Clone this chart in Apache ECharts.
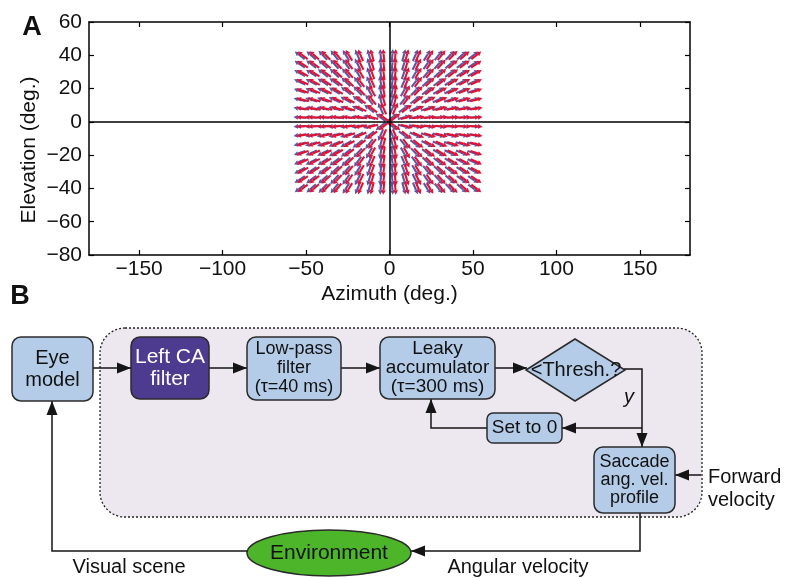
<!DOCTYPE html>
<html><head><meta charset="utf-8">
<script src="https://cdn.jsdelivr.net/npm/echarts@6/dist/echarts.min.js"></script>
<style>html,body{margin:0;padding:0;background:#fff}#c{width:787px;height:578px}</style>
</head><body><div id="c"></div>
<script>
// ---- data ----
const azimuths = [-52, -45.1, -38.1, -31.2, -24.3, -17.3, -10.4, -3.5, 3.5, 10.4, 17.3, 24.3, 31.2, 38.1, 45.1, 52];
const elevations = [-40, -34.7, -29.3, -24, -18.7, -13.3, -8, -2.7, 2.7, 8, 13.3, 18.7, 24, 29.3, 34.7, 40];
const focusOfExpansion = [0, 0];
const xTickValues = [-150, -100, -50, 0, 50, 100, 150];
const yTickValues = [-80, -60, -40, -20, 0, 20, 40, 60];
const xRange = [-180, 180];
const yRange = [-80, 60];

const FONT = '"Liberation Sans", Arial, Helvetica, sans-serif';
const points = [];
for (const el of elevations) for (const az of azimuths) points.push([az, el]);

function arrowRenderer(color, dx) {
  return function (params, api) {
    const p = api.coord([api.value(0), api.value(1)]);
    const o = api.coord(focusOfExpansion);
    let vx = p[0] - o[0], vy = p[1] - o[1];
    const n = Math.hypot(vx, vy) || 1; vx /= n; vy /= n;
    const L = 12.5, hl = 4.5, hw = 2.4;
    const cx = p[0] + dx, cy = p[1];
    const x1 = cx - vx * L / 2, y1 = cy - vy * L / 2;
    const x2 = cx + vx * L / 2, y2 = cy + vy * L / 2;
    const bx = x2 - vx * hl, by = y2 - vy * hl;
    return { type: 'group', children: [
      { type: 'line', shape: { x1: x1, y1: y1, x2: bx, y2: by }, style: { stroke: color, lineWidth: 2.1 } },
      { type: 'polygon', shape: { points: [[x2, y2], [bx - vy * hw, by + vx * hw], [bx + vy * hw, by - vx * hw]] }, style: { fill: color } }
    ] };
  };
}
const minus = v => (v < 0 ? '\u2212' + Math.abs(v) : String(v));

// ---- diagram (panel B) ----
const LINE = '#151515', BOXFILL = '#b5cce8', BORDER = '#2b2b2b';
const G = [];
function txt(x, y, text, size, opts) {
  opts = opts || {};
  G.push({ type: 'text', z: 20, x: x, y: y, rotation: opts.rot || 0,
    style: { text: text, x: 0, y: 0, align: opts.align || 'center', verticalAlign: 'middle',
      fontSize: size, fontFamily: FONT, fontStyle: opts.italic ? 'italic' : 'normal', fontWeight: opts.bold ? 'bold' : 'normal',
      fill: opts.color || '#111', lineHeight: opts.lh || size } });
}
function box(x, y, w, h, r, fill, text, size, lh, color) {
  G.push({ type: 'rect', z: 10, shape: { x: x, y: y, width: w, height: h, r: r }, style: { fill: fill, stroke: BORDER, lineWidth: 1.5 } });
  txt(x + w / 2, y + h / 2, text, size, { lh: lh, color: color });
}
function wire(pts) {
  G.push({ type: 'polyline', z: 5, shape: { points: pts }, style: { stroke: LINE, lineWidth: 1.5, fill: null } });
}
function head(x, y, dir) {
  const l = 14, w = 5.5;
  let pts;
  if (dir === 'right') pts = [[x, y], [x - l, y - w], [x - l, y + w]];
  if (dir === 'left') pts = [[x, y], [x + l, y - w], [x + l, y + w]];
  if (dir === 'up') pts = [[x, y], [x - w, y + l], [x + w, y + l]];
  if (dir === 'down') pts = [[x, y], [x - w, y - l], [x + w, y - l]];
  G.push({ type: 'polygon', z: 15, shape: { points: pts }, style: { fill: LINE } });
}
// dotted region
G.push({ type: 'rect', z: 1, shape: { x: 100, y: 328, width: 602, height: 189, r: 25 },
  style: { fill: '#ede7ef', stroke: '#222', lineWidth: 1.3, lineDash: [2, 2] } });
// wires
wire([[93, 368], [131, 368]]); head(131, 368, 'right');
wire([[209, 368], [247, 368]]); head(247, 368, 'right');
wire([[341, 368], [380, 368]]); head(380, 368, 'right');
wire([[495, 368], [527, 368]]); head(527, 368, 'right');
wire([[624, 369], [642, 369], [642, 447]]); head(642, 447, 'down');
wire([[642, 428], [562, 428]]); head(562, 428, 'left');
wire([[487, 428], [431, 428], [431, 399]]); head(431, 399, 'up');
wire([[701, 475], [675, 475]]); head(675, 475, 'left');
wire([[640, 513], [640, 551], [411, 551]]); head(411, 551, 'left');
wire([[247, 551], [52, 551], [52, 401]]); head(52, 401, 'up');
// boxes
box(12, 337, 81, 64, 9, BOXFILL, 'Eye\nmodel', 20, 22);
box(131, 337, 78, 62, 9, '#4c3b8e', 'Left CA\nfilter', 21, 22, '#ffffff');
box(247, 337, 94, 63, 9, BOXFILL, 'Low-pass\nfilter\n(\u03c4=40 ms)', 18, 19);
box(380, 337, 115, 62, 9, BOXFILL, 'Leaky\naccumulator\n(\u03c4=300 ms)', 19, 19);
box(487, 413, 75, 30, 6, BOXFILL, 'Set to 0', 19, 19);
box(594, 447, 81, 66, 9, BOXFILL, 'Saccade\nang. vel.\nprofile', 18, 18);
G.push({ type: 'polygon', z: 10, shape: { points: [[526, 370], [575, 339], [625, 370], [575, 401]] }, style: { fill: BOXFILL, stroke: BORDER, lineWidth: 1.5 } });
txt(576, 370, '<Thresh.?', 20);
txt(629, 397, 'y', 20, { italic: true });
G.push({ type: 'ellipse', z: 10, shape: { cx: 329, cy: 553, rx: 82, ry: 23 }, style: { fill: '#4db52a', stroke: BORDER, lineWidth: 1.5 } });
txt(329, 553, 'Environment', 21);
txt(708, 477, 'Forward', 20, { align: 'left' });
txt(708, 500, 'velocity', 20, { align: 'left' });
txt(129, 567, 'Visual scene', 20);
txt(518, 567, 'Angular velocity', 20);
txt(32, 28, 'A', 27, { bold: true });
txt(20, 297, 'B', 27, { bold: true });
txt(29, 150, 'Elevation (deg.)', 21, { rot: Math.PI / 2 });

const axisLine = { show: true, onZero: false, lineStyle: { color: '#000', width: 1.5 } };
const tickStyle = { color: '#000', width: 1.2 };
const option = {
  animation: false,
  backgroundColor: '#fff',
  grid: { left: 89, top: 22, right: 97, bottom: 323, containLabel: false, outerBoundsMode: 'none', show: false },
  xAxis: [
    { type: 'value', position: 'bottom', min: xRange[0], max: xRange[1], axisLine: axisLine,
      axisTick: { show: true, inside: true, length: 5, customValues: xTickValues, lineStyle: tickStyle },
      axisLabel: { customValues: xTickValues, formatter: minus, fontSize: 21, fontFamily: FONT, color: '#111', margin: 4 },
      splitLine: { show: false },
      name: 'Azimuth (deg.)', nameLocation: 'middle', nameGap: 29,
      nameTextStyle: { fontSize: 21, fontFamily: FONT, color: '#111' } },
    { type: 'value', position: 'top', min: xRange[0], max: xRange[1], axisLine: axisLine,
      axisTick: { show: true, inside: true, length: 5, customValues: xTickValues, lineStyle: tickStyle },
      axisLabel: { show: false }, splitLine: { show: false } }
  ],
  yAxis: [
    { type: 'value', position: 'left', min: yRange[0], max: yRange[1], interval: 20, axisLine: axisLine,
      axisTick: { show: true, inside: true, length: 5, lineStyle: tickStyle },
      axisLabel: { formatter: minus, fontSize: 21, fontFamily: FONT, color: '#111', margin: 7 },
      splitLine: { show: false } },
    { type: 'value', position: 'right', min: yRange[0], max: yRange[1], interval: 20, axisLine: axisLine,
      axisTick: { show: true, inside: true, length: 5, lineStyle: tickStyle },
      axisLabel: { show: false }, splitLine: { show: false } }
  ],
  series: [
    { type: 'custom', name: 'blue', data: points, renderItem: arrowRenderer('#5b56a8', -3), z: 2, silent: true },
    { type: 'custom', name: 'red', data: points, renderItem: arrowRenderer('#e4112f', 0), z: 3, silent: true,
      markLine: { silent: true, symbol: 'none', label: { show: false }, lineStyle: { color: '#000', width: 1.5, type: 'solid' },
        data: [{ xAxis: 0 }, { yAxis: 0 }] } }
  ],
  graphic: G
};
const chart = echarts.init(document.getElementById('c'), null, { renderer: 'canvas' });
chart.setOption(option);
</script></body></html>
